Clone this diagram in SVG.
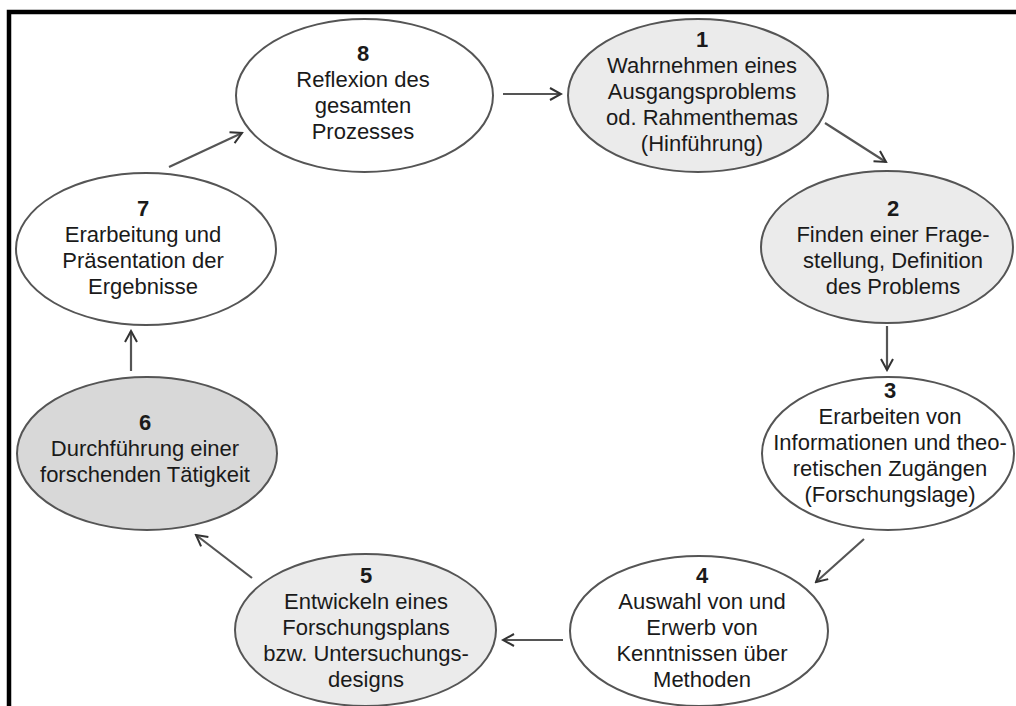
<svg xmlns="http://www.w3.org/2000/svg" width="1016" height="706" viewBox="0 0 1016 706">
<defs>
<marker id="arr" viewBox="0 0 16 16" refX="14" refY="8" markerWidth="16" markerHeight="16" markerUnits="userSpaceOnUse" orient="auto">
<path d="M3,2 L14,8 L3,14" fill="none" stroke="#333" stroke-width="2"/>
</marker>
<style>
.n ellipse{stroke:#555;stroke-width:2}
.t{font-family:"Liberation Sans",Arial,sans-serif;font-size:22px;fill:#1a1a1a;text-anchor:middle}
.b{font-weight:bold}
.c line{stroke:#555;stroke-width:2.2;marker-end:url(#arr)}
</style>
</defs>
<rect width="1016" height="706" fill="#fff"/>
<path d="M9,706 V12 H1016" fill="none" stroke="#000" stroke-width="4.5"/>
<g id="node8" class="n"><ellipse cx="364.5" cy="95.5" rx="128.5" ry="76.5" fill="#fff"/>
<text class="t" x="363"><tspan class="b" x="363" y="61">8</tspan><tspan x="363" y="87">Reflexion des</tspan><tspan x="363" y="113">gesamten</tspan><tspan x="363" y="139">Prozesses</tspan></text></g>
<g id="node1" class="n"><ellipse cx="698" cy="95.5" rx="130" ry="76.5" fill="#ebebeb"/>
<text class="t"><tspan class="b" x="702" y="47">1</tspan><tspan x="702" y="73">Wahrnehmen eines</tspan><tspan x="702" y="99">Ausgangsproblems</tspan><tspan x="702" y="125">od. Rahmenthemas</tspan><tspan x="702" y="151">(Hinführung)</tspan></text></g>
<g id="node2" class="n"><ellipse cx="887" cy="247" rx="126" ry="76" fill="#ebebeb"/>
<text class="t"><tspan class="b" x="893" y="216">2</tspan><tspan x="893" y="242">Finden einer Frage-</tspan><tspan x="893" y="268">stellung, Definition</tspan><tspan x="893" y="294">des Problems</tspan></text></g>
<g id="node3" class="n"><ellipse cx="888" cy="453.5" rx="126" ry="76.5" fill="#fff"/>
<text class="t"><tspan class="b" x="890" y="398">3</tspan><tspan x="890" y="424">Erarbeiten von</tspan><tspan x="890" y="450">Informationen und theo-</tspan><tspan x="890" y="476">retischen Zugängen</tspan><tspan x="890" y="502">(Forschungslage)</tspan></text></g>
<g id="node4" class="n"><ellipse cx="699" cy="631" rx="129" ry="75" fill="#fff"/>
<text class="t"><tspan class="b" x="702" y="583">4</tspan><tspan x="702" y="609">Auswahl von und</tspan><tspan x="702" y="635">Erwerb von</tspan><tspan x="702" y="661">Kenntnissen über</tspan><tspan x="702" y="687">Methoden</tspan></text></g>
<g id="node5" class="n"><ellipse cx="365.5" cy="630" rx="130.5" ry="76" fill="#ebebeb"/>
<text class="t"><tspan class="b" x="366" y="583">5</tspan><tspan x="366" y="609">Entwickeln eines</tspan><tspan x="366" y="635">Forschungsplans</tspan><tspan x="366" y="661">bzw. Untersuchungs-</tspan><tspan x="366" y="687">designs</tspan></text></g>
<g id="node6" class="n"><ellipse cx="147" cy="453.5" rx="130" ry="76.5" fill="#d8d8d8"/>
<text class="t"><tspan class="b" x="145" y="430">6</tspan><tspan x="145" y="456">Durchführung einer</tspan><tspan x="145" y="482">forschenden Tätigkeit</tspan></text></g>
<g id="node7" class="n"><ellipse cx="146" cy="249" rx="130" ry="76" fill="#fff"/>
<text class="t"><tspan class="b" x="143" y="216">7</tspan><tspan x="143" y="242">Erarbeitung und</tspan><tspan x="143" y="268">Präsentation der</tspan><tspan x="143" y="294">Ergebnisse</tspan></text></g>
<g id="connectors" class="c">
<line x1="503" y1="94" x2="561" y2="94"/>
<line x1="825" y1="123" x2="886" y2="162"/>
<line x1="887" y1="326" x2="887" y2="370"/>
<line x1="864" y1="539" x2="816" y2="582"/>
<line x1="563" y1="640" x2="503" y2="640"/>
<line x1="252" y1="578" x2="196" y2="535"/>
<line x1="131" y1="371" x2="131" y2="331"/>
<line x1="169" y1="167" x2="242" y2="133"/>
</g>
</svg>
